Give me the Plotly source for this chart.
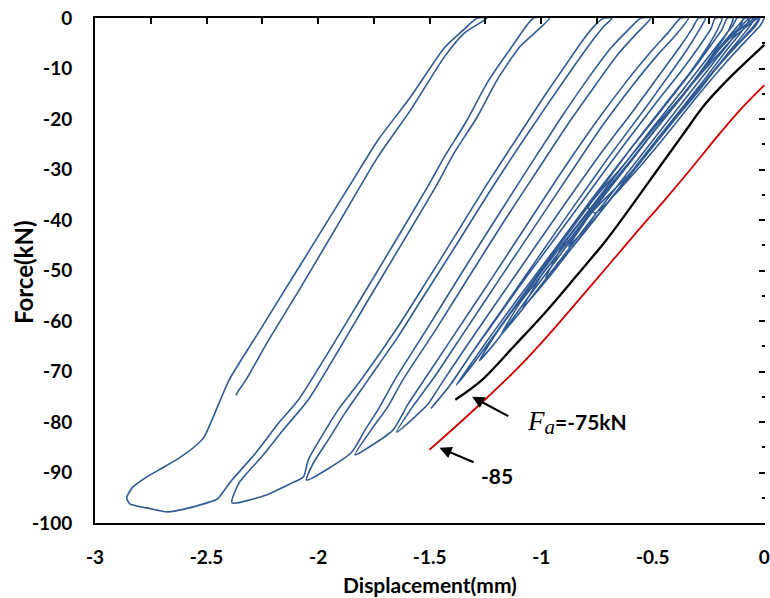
import plotly.graph_objects as go

# ---------------- data (displacement in mm, force in kN) ----------------
# blue cyclic test, branches listed in loading order
first_load_d = [0.0, -0.02, -0.08, -0.17, -0.295, -0.44, -0.595, -0.757]
first_load_f = [0.0, -1.6, -4.4, -8.7, -15.2, -23.2, -31.3, -38.6]

unload13_d = [-0.789, -0.642, -0.487, -0.344, -0.229, -0.140, -0.077, -0.028]
unload13_f = [-37.6, -29.7, -21.4, -14.1, -8.3, -4.0, -1.6, 0.0]
reload13_d = [-0.02, -0.040, -0.100, -0.190, -0.312, -0.458, -0.613, -0.771]
reload13_f = [0.0, -1.6, -4.4, -8.7, -15.2, -23.2, -31.3, -38.4]

unload12_d = [-0.878, -0.731, -0.576, -0.429, -0.295, -0.189, -0.113, -0.055, -0.024]
unload12_f = [-45.3, -38.2, -29.7, -21.6, -14.5, -8.5, -4.8, -2.0, 0.0]
reload12_d = [-0.042, -0.073, -0.131, -0.211, -0.318, -0.451, -0.598, -0.754, -0.896]
reload12_f = [0.0, -1.0, -3.0, -6.7, -12.7, -20.0, -28.1, -36.6, -44.6]

unload11_d = [-0.980, -0.838, -0.691, -0.540, -0.393, -0.264, -0.162, -0.082, -0.042]
unload11_f = [-51.5, -44.2, -36.0, -27.5, -19.4, -12.5, -6.9, -2.6, 0.0]
reload11_d = [-0.064, -0.109, -0.189, -0.291, -0.420, -0.567, -0.718, -0.865, -0.998]
reload11_f = [0.0, -1.8, -5.5, -11.3, -18.4, -26.5, -35.0, -43.4, -50.9]

unload10_d = [-1.083, -0.972, -0.825, -0.673, -0.522, -0.380, -0.260, -0.171, -0.104, -0.064]
unload10_f = [-57.4, -51.7, -43.4, -34.9, -26.3, -18.4, -11.7, -6.5, -2.8, 0.0]
reload10_d = [-0.086, -0.131, -0.198, -0.286, -0.407, -0.549, -0.700, -0.851, -0.998, -1.101]
reload10_f = [0.0, -2.2, -5.7, -10.9, -17.6, -25.5, -34.1, -42.6, -50.9, -56.8]

unload9_d = [-1.181, -1.087, -0.949, -0.794, -0.638, -0.482, -0.340, -0.229, -0.149, -0.113, -0.095]
unload9_f = [-62.8, -57.8, -49.9, -41.0, -32.1, -23.2, -15.2, -8.9, -4.4, -2.0, 0.0]
reload9_d = [-0.122, -0.140, -0.175, -0.255, -0.367, -0.509, -0.665, -0.820, -0.976, -1.109, -1.198]
reload9_f = [0.0, -1.4, -3.4, -7.9, -14.3, -22.2, -31.1, -40.0, -48.9, -56.8, -62.2]

unload8_d = [-1.278, -1.198, -1.060, -0.905, -0.749, -0.593, -0.438, -0.304, -0.211, -0.162, -0.140]
unload8_f = [-67.9, -63.8, -55.4, -46.3, -37.0, -28.1, -19.2, -11.7, -5.9, -2.6, 0.0]
reload8_d = [-0.166, -0.189, -0.238, -0.331, -0.464, -0.620, -0.776, -0.931, -1.087, -1.221, -1.296]
reload8_f = [0.0, -2.2, -5.3, -10.9, -18.4, -27.1, -36.0, -45.3, -54.5, -62.6, -67.3]

unload7_d = [-1.381, -1.305, -1.194, -1.060, -0.905, -0.749, -0.593, -0.451, -0.331, -0.251, -0.211, -0.189]
unload7_f = [-72.7, -68.5, -61.8, -53.5, -44.2, -34.9, -25.5, -17.4, -10.7, -5.5, -2.4, 0.0]
reload7_d = [-0.220, -0.238, -0.282, -0.362, -0.478, -0.620, -0.776, -0.931, -1.087, -1.221, -1.332, -1.398]
reload7_f = [0.0, -2.0, -5.0, -9.9, -16.4, -24.6, -33.9, -43.2, -52.5, -60.8, -67.7, -72.1]

unload6_d = [-1.492, -1.412, -1.301, -1.167, -1.012, -0.856, -0.700, -0.553, -0.433, -0.344, -0.295, -0.264]
unload6_f = [-77.2, -72.9, -65.7, -57.2, -47.3, -37.4, -27.7, -19.0, -11.7, -6.1, -2.6, 0.0]
reload6_d = [-0.295, -0.322, -0.375, -0.464, -0.585, -0.731, -0.887, -1.043, -1.198, -1.332, -1.443, -1.510]
reload6_f = [0.0, -2.0, -5.5, -10.9, -18.2, -26.7, -36.4, -46.3, -56.2, -64.8, -72.1, -76.6]

unload5_d = [-1.648, -1.577, -1.479, -1.345, -1.190, -1.034, -0.878, -0.727, -0.593, -0.482, -0.398, -0.340]
unload5_f = [-82.0, -77.0, -71.1, -62.2, -51.9, -41.6, -31.3, -21.4, -13.5, -7.5, -3.4, 0.0]
reload5_d = [-0.375, -0.433, -0.509, -0.620, -0.754, -0.909, -1.065, -1.221, -1.376, -1.510, -1.599, -1.665]
reload5_f = [0.0, -3.0, -6.7, -12.7, -20.6, -30.5, -41.0, -51.5, -61.8, -70.7, -76.6, -81.6]

unload4_d = [-1.835, -1.763, -1.688, -1.621, -1.474, -1.319, -1.163, -1.007, -0.874, -0.754, -0.651, -0.571, -0.509]
unload4_f = [-86.5, -81.6, -77.0, -71.7, -61.8, -50.9, -40.0, -29.5, -20.6, -13.1, -6.9, -3.0, 0.0]
reload4_d = [-0.553, -0.611, -0.687, -0.789, -0.909, -1.043, -1.198, -1.354, -1.510, -1.657, -1.732, -1.790, -1.852]
reload4_f = [0.0, -2.4, -5.9, -11.9, -19.6, -28.7, -39.4, -50.3, -61.4, -71.7, -77.6, -81.6, -86.1]

unload3_d = [-2.052, -2.021, -1.955, -1.879, -1.777, -1.643, -1.510, -1.376, -1.243, -1.109, -0.976, -0.865, -0.776, -0.718, -0.682]
unload3_f = [-91.5, -88.1, -83.6, -78.2, -71.7, -63.2, -53.9, -44.6, -35.2, -26.1, -17.4, -10.3, -4.8, -1.6, 0.0]
reload3_d = [-0.718, -0.754, -0.807, -0.887, -0.985, -1.109, -1.243, -1.376, -1.510, -1.643, -1.808, -1.910, -1.986, -2.044, -2.066]
reload3_f = [0.0, -1.2, -4.0, -9.1, -15.4, -23.8, -32.9, -42.4, -51.9, -61.2, -71.7, -77.6, -83.0, -87.5, -90.9]
envelope3_d = [-2.119, -2.235]
envelope3_f = [-92.1, -94.5]

unload2_d = [-2.386, -2.355, -2.253, -2.146, -2.044, -1.763, -1.474, -1.390, -1.287, -1.198, -1.096, -0.963]
unload2_f = [-96.0, -92.1, -86.9, -81.0, -75.6, -54.9, -33.5, -26.7, -19.6, -12.3, -5.7, 0.0]
reload2_d = [-1.034, -1.141, -1.243, -1.332, -1.434, -1.510, -1.799, -2.088, -2.177, -2.279, -2.386, -2.444]
reload2_f = [0.0, -6.3, -12.9, -20.2, -27.5, -33.5, -54.9, -75.6, -80.2, -86.1, -91.5, -94.9]
envelope2_d = [-2.457, -2.577, -2.675, -2.769, -2.844, -2.858]
envelope2_f = [-95.4, -97.0, -97.8, -97.0, -96.2, -95.0]

unload1_d = [-2.831, -2.769, -2.698, -2.622, -2.546, -2.511, -2.399, -2.266, -2.088, -1.866, -1.732, -1.585, -1.434, -1.345, -1.287]
unload1_f = [-92.9, -90.9, -89.1, -87.1, -84.6, -83.0, -71.7, -62.2, -49.5, -33.7, -24.2, -15.6, -5.9, -2.2, 0.0]
reload1_d = [-1.243, -1.345, -1.434, -1.585, -1.732, -1.910, -2.088, -2.222, -2.324, -2.355, -2.368]
reload1_f = [0.0, -3.0, -7.7, -18.2, -27.5, -40.8, -54.1, -63.8, -71.7, -73.7, -74.7]

# black curve, Fa = -75 kN
black_d = [-1.385, -1.261, -1.118, -0.976, -0.843, -0.709, -0.585, -0.473, -0.367, -0.264, -0.166, -0.082, 0.0]
black_f = [-75.6, -71.5, -64.8, -58.0, -51.1, -44.0, -36.6, -29.7, -23.2, -17.0, -12.3, -8.7, -5.3]

# red curve, Fa = -85 kN
red_d = [-1.501, -1.376, -1.243, -1.109, -0.976, -0.843, -0.709, -0.576, -0.442, -0.322, -0.206, -0.100, 0.0]
red_f = [-85.5, -80.6, -75.2, -69.5, -63.2, -56.4, -49.5, -42.6, -35.8, -29.5, -23.2, -17.8, -13.3]

# axes
x_ticks = [-3, -2.5, -2, -1.5, -1, -0.5, 0]
x_tick_text = ["-3", "-2.5", "-2", "-1.5", "-1", "-0.5", "0"]
y_ticks = [0, -10, -20, -30, -40, -50, -60, -70, -80, -90, -100]
y_tick_text = ["0", "-10", "-20", "-30", "-40", "-50", "-60", "-70", "-80", "-90", "-100"]
top_ticks = [-3, -2.75, -2.5, -2.25, -2, -1.75, -1.5, -1.25, -1, -0.75, -0.5, -0.25, 0]

# ---------------- build ----------------
branches = [
    (first_load_d, first_load_f),
    (unload13_d, unload13_f), (reload13_d, reload13_f),
    (unload12_d, unload12_f), (reload12_d, reload12_f),
    (unload11_d, unload11_f), (reload11_d, reload11_f),
    (unload10_d, unload10_f), (reload10_d, reload10_f),
    (unload9_d, unload9_f), (reload9_d, reload9_f),
    (unload8_d, unload8_f), (reload8_d, reload8_f),
    (unload7_d, unload7_f), (reload7_d, reload7_f),
    (unload6_d, unload6_f), (reload6_d, reload6_f),
    (unload5_d, unload5_f), (reload5_d, reload5_f),
    (unload4_d, unload4_f), (reload4_d, reload4_f),
    (unload3_d, unload3_f), (reload3_d, reload3_f), (envelope3_d, envelope3_f),
    (unload2_d, unload2_f), (reload2_d, reload2_f), (envelope2_d, envelope2_f),
    (unload1_d, unload1_f), (reload1_d, reload1_f),
]
blue_d = [v for d, f in branches for v in d]
blue_f = [v for d, f in branches for v in f]

FONT = "Lato, sans-serif"
BLUE = "#2f5a94"

fig = go.Figure()
fig.add_trace(go.Scatter(x=blue_d, y=blue_f, mode="lines",
                         line=dict(color=BLUE, width=1.6, shape="spline", smoothing=0.6),
                         hoverinfo="skip"))
fig.add_trace(go.Scatter(x=black_d, y=black_f, mode="lines", xaxis="x2", yaxis="y2",
                         line=dict(color="black", width=2.3, shape="spline", smoothing=1.0),
                         hoverinfo="skip"))
fig.add_trace(go.Scatter(x=red_d, y=red_f, mode="lines",
                         line=dict(color="#d00000", width=1.8, shape="spline", smoothing=1.0),
                         hoverinfo="skip"))

tick_font = dict(family=FONT, size=19, color="black", weight="bold")
xr = [-3, 0.003]
yr = [-100, 0]

fig.update_layout(
    width=770, height=598,
    margin=dict(l=95, r=0, t=18, b=75),
    paper_bgcolor="white", plot_bgcolor="white",
    showlegend=False, hovermode=False,
    xaxis=dict(range=xr, tickmode="array", tickvals=x_ticks, ticktext=x_tick_text,
               showgrid=False, zeroline=False, showline=True, linecolor="black", linewidth=2,
               ticks="outside", ticklen=16, tickcolor="rgba(0,0,0,0)", tickfont=tick_font,
               ticklabeloverflow="allow"),
    yaxis=dict(range=yr, tickmode="array", tickvals=y_ticks, ticktext=y_tick_text,
               showgrid=False, zeroline=False, showline=True, linecolor="black", linewidth=2,
               ticks="outside", ticklen=17, tickcolor="rgba(0,0,0,0)", tickfont=tick_font,
               ticklabeloverflow="allow"),
    xaxis2=dict(range=xr, overlaying="x", side="top", tickmode="array", tickvals=top_ticks,
                showgrid=False, zeroline=False, showline=True, linecolor="black", linewidth=2,
                ticks="inside", ticklen=6, tickwidth=1.5, tickcolor="black", showticklabels=False),
    yaxis2=dict(range=yr, overlaying="y", side="right", tickmode="linear", tick0=0, dtick=10,
                showgrid=False, zeroline=False, showline=False,
                ticks="inside", ticklen=6, tickwidth=1.5, tickcolor="black", showticklabels=False,
                minor=dict(dtick=5, ticks="inside", ticklen=3, tickwidth=1.5, tickcolor="black", showgrid=False)),
)

title_font = dict(family=FONT, size=21, color="black", weight="bold")
fig.add_annotation(text="Displacement(mm)", xref="paper", yref="paper", x=0.5, y=-0.121,
                   xanchor="center", yanchor="middle", showarrow=False, font=title_font)
fig.add_annotation(text="Force(kN)", xref="paper", yref="paper", x=-0.1067, y=0.496,
                   xanchor="center", yanchor="middle", textangle=-90, showarrow=False,
                   font=dict(family=FONT, size=24, color="black", weight="bold"))

# arrows
fig.add_annotation(x=-1.310, y=-75.0, ax=-1.141, ay=-79.0, xref="x", yref="y", axref="x", ayref="y",
                   text="", showarrow=True, arrowhead=2, arrowsize=1.1, arrowwidth=2.2, arrowcolor="black")
fig.add_annotation(x=-1.456, y=-85.1, ax=-1.296, ay=-88.1, xref="x", yref="y", axref="x", ayref="y",
                   text="", showarrow=True, arrowhead=2, arrowsize=1.1, arrowwidth=2.2, arrowcolor="black")

ann_font = dict(family=FONT, size=21, color="black", weight="bold")
fig.add_annotation(
    text="<span style='font-family:Liberation Serif;font-weight:normal;font-size:27px'><i>F</i></span>"
         "<sub><span style='font-family:Liberation Serif;font-weight:normal;font-size:21px'><i>a</i></span></sub>=-75kN",
    x=-1.074, y=-80.0, xref="x", yref="y", xanchor="left", yanchor="middle",
    showarrow=False, font=ann_font)
fig.add_annotation(text="-85", x=-1.279, y=-90.5, xref="x", yref="y", xanchor="left", yanchor="middle",
                   showarrow=False, font=ann_font)

fig.write_html("out.html")
